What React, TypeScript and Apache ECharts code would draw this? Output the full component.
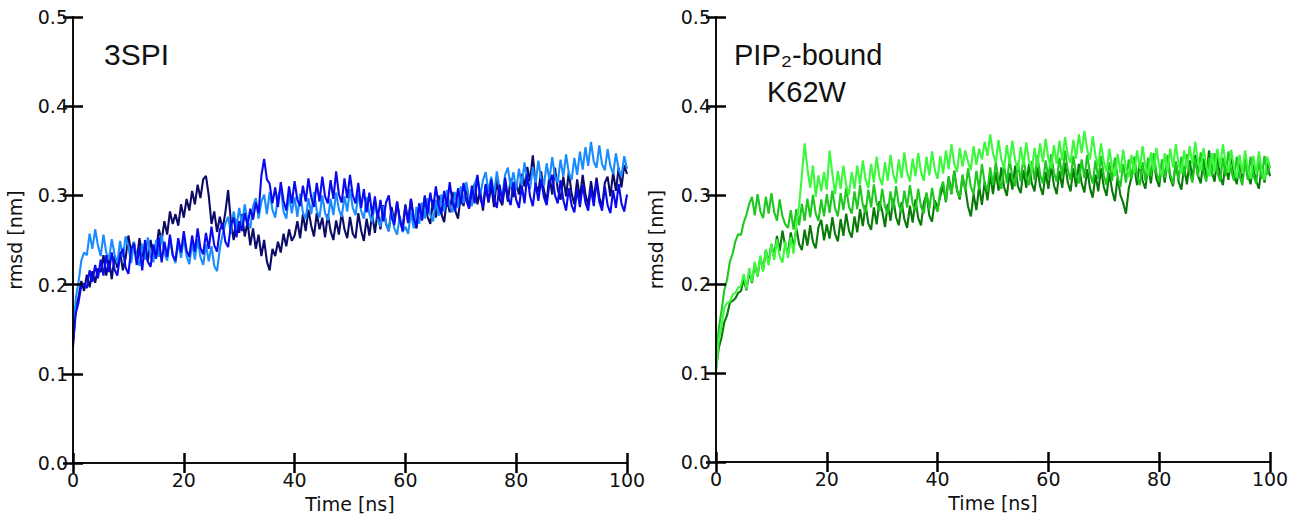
import React, { useEffect, useRef } from "react";
import * as echarts from "echarts";

// sample times: 0 .. 100 ns, step 0.5 ns
const STEP_NS = 0.5;
const X_TICKS = [0, 20, 40, 60, 80, 100];
const Y_TICKS = [0.0, 0.1, 0.2, 0.3, 0.4, 0.5];

// RMSD values in thousandths of nm (0.001 nm), one per 0.5 ns
const navy3SPI = [
  130, 175, 186, 204, 193, 211, 197, 215, 202, 218,
  214, 233, 210, 228, 206, 232, 219, 237, 216, 230,
  255, 236, 248, 227, 252, 231, 243, 226, 250, 233,
  238, 262, 249, 271, 256, 282, 268, 279, 266, 290,
  275, 296, 283, 305, 290, 312, 297, 318, 322, 300,
  268, 282, 259, 276, 262, 281, 306, 271, 250, 273,
  258, 279, 254, 270, 244, 263, 240, 256, 232, 250,
  226, 216, 240, 232, 248, 236, 257, 243, 262, 249,
  255, 271, 252, 279, 260, 284, 266, 254, 280, 262,
  275, 253, 279, 260, 250, 272, 256, 281, 262, 252,
  276, 257, 252, 280, 261, 249, 274, 255, 279, 258,
  283, 262, 289, 268, 260, 287, 270, 293, 271, 264,
  290, 270, 296, 274, 263, 291, 272, 298, 276, 268,
  295, 275, 300, 279, 270, 297, 281, 304, 283, 274,
  300, 288, 310, 286, 303, 313, 290, 306, 283, 311,
  292, 311, 287, 318, 296, 289, 314, 293, 319, 298,
  314, 301, 324, 310, 332, 316, 345, 312, 304, 327,
  306, 293, 323, 301, 331, 307, 295, 321, 299, 326,
  302, 290, 318, 297, 323, 301, 289, 316, 295, 320,
  298, 287, 314, 321, 299, 326, 305, 331, 309, 334,
  324,
];

const blue3SPI = [
  135, 168, 180, 199, 201, 196, 216, 203, 222, 207,
  228, 210, 233, 214, 236, 217, 210, 233, 240, 219,
  212, 240, 246, 222, 242, 216, 250, 226, 220, 245,
  229, 253, 225, 248, 231, 256, 233, 227, 252, 236,
  260, 238, 231, 255, 237, 263, 241, 234, 258, 240,
  265, 244, 237, 261, 269, 248, 242, 267, 275, 253,
  271, 260, 280, 266, 285, 273, 292, 280, 322, 341,
  318, 313, 291, 309, 287, 315, 294, 283, 310, 291,
  316, 295, 288, 311, 293, 319, 298, 287, 314, 293,
  321, 299, 291, 317, 296, 327, 301, 292, 319, 297,
  323, 300, 291, 314, 286, 307, 281, 303, 278, 299,
  274, 295, 271, 292, 300, 276, 267, 293, 273, 260,
  288, 269, 296, 274, 265, 291, 272, 300, 279, 303,
  284, 310, 289, 279, 305, 287, 315, 292, 283, 308,
  290, 314, 294, 285, 311, 291, 323, 297, 287, 313,
  293, 318, 296, 286, 312, 292, 320, 298, 289, 315,
  295, 286, 311, 291, 324, 299, 288, 314, 294, 318,
  298, 289, 313, 323, 300, 291, 317, 295, 283, 308,
  289, 281, 307, 287, 312, 292, 283, 308, 288, 316,
  293, 283, 310, 289, 280, 306, 286, 313, 291, 282,
  301,
];

const lightBlue3SPI = [
  140, 185, 203, 227, 236, 233, 257, 240, 262, 244,
  232, 256, 236, 228, 251, 234, 224, 249, 231, 254,
  243, 224, 248, 229, 221, 246, 228, 253, 232, 225,
  250, 231, 256, 235, 227, 252, 233, 224, 248, 230,
  253, 232, 223, 247, 228, 251, 231, 222, 245, 226,
  243, 221, 215, 240, 256, 268, 276, 257, 282, 263,
  286, 267, 290, 271, 263, 288, 297, 274, 293, 301,
  279, 304, 284, 275, 299, 308, 282, 274, 301, 280,
  298, 276, 302, 281, 273, 297, 279, 304, 283, 275,
  300, 280, 272, 296, 278, 303, 284, 276, 299, 282,
  307, 286, 278, 302, 283, 274, 298, 279, 270, 293,
  273, 265, 288, 269, 260, 282, 263, 256, 277, 259,
  265, 257, 281, 263, 287, 268, 292, 274, 297, 278,
  271, 295, 277, 301, 282, 306, 288, 281, 304, 286,
  310, 291, 315, 296, 288, 313, 322, 299, 317, 326,
  304, 321, 300, 327, 307, 298, 323, 331, 309, 326,
  306, 330, 311, 337, 315, 307, 332, 313, 339, 318,
  311, 336, 317, 343, 322, 314, 340, 321, 346, 325,
  317, 342, 323, 349, 329, 354, 333, 360, 338, 331,
  356, 335, 328, 352, 333, 324, 347, 329, 321, 344,
  330,
];

const darkGreenK62W = [
  105, 128, 140, 157, 165, 179, 181, 184, 190, 192,
  205, 193, 214, 201, 223, 209, 230, 216, 238, 224,
  245, 231, 254, 237, 260, 242, 235, 258, 241, 263,
  245, 238, 261, 243, 266, 247, 240, 264, 272, 249,
  267, 251, 275, 256, 248, 273, 254, 279, 260, 252,
  276, 258, 284, 265, 289, 268, 261, 286, 267, 293,
  282, 264, 290, 271, 296, 275, 266, 292, 273, 263,
  288, 269, 295, 274, 266, 291, 301, 277, 270, 294,
  285, 299, 310, 292, 321, 301, 327, 306, 295, 320,
  308, 287, 276, 301, 283, 310, 289, 315, 294, 323,
  301, 326, 305, 331, 309, 299, 325, 306, 333, 310,
  302, 328, 308, 335, 313, 304, 331, 310, 300, 326,
  307, 333, 311, 301, 327, 308, 336, 314, 304, 330,
  309, 335, 313, 303, 329, 308, 297, 323, 304, 330,
  309, 299, 325, 305, 293, 320, 300, 291, 279, 307,
  320, 332, 311, 338, 316, 307, 333, 313, 340, 318,
  309, 335, 314, 341, 319, 310, 337, 315, 306, 332,
  312, 339, 318, 345, 322, 313, 341, 320, 350, 326,
  315, 343, 322, 311, 338, 317, 345, 323, 312, 339,
  318, 344, 323, 312, 338, 316, 307, 333, 314, 336,
  321,
];

const midGreenK62W = [
  112, 150, 170, 193, 205, 225, 234, 248, 256, 255,
  269, 278, 290, 298, 277, 301, 282, 274, 298, 279,
  302, 281, 271, 295, 276, 267, 263, 283, 261, 284,
  266, 290, 271, 296, 275, 300, 279, 271, 295, 276,
  301, 280, 305, 285, 276, 302, 283, 308, 287, 279,
  304, 284, 311, 289, 280, 306, 286, 312, 291, 282,
  307, 287, 279, 304, 284, 310, 289, 281, 305, 286,
  311, 290, 282, 307, 287, 279, 303, 284, 308, 289,
  281, 306, 315, 293, 320, 301, 326, 305, 297, 323,
  304, 330, 309, 301, 327, 306, 335, 313, 304, 331,
  311, 337, 316, 307, 333, 313, 341, 319, 310, 336,
  315, 342, 321, 311, 338, 317, 345, 323, 313, 339,
  319, 346, 325, 315, 342, 321, 350, 328, 317, 344,
  323, 313, 340, 319, 345, 324, 313, 339, 318, 344,
  322, 311, 337, 316, 342, 320, 309, 335, 314, 340,
  318, 343, 322, 311, 337, 316, 342, 321, 347, 325,
  315, 340, 319, 345, 323, 312, 338, 317, 343, 321,
  346, 325, 314, 341, 320, 348, 326, 315, 342, 321,
  347, 326, 315, 342, 321, 349, 327, 316, 343, 322,
  311, 338, 317, 343, 322, 313, 339, 318, 344, 323,
  333,
];

const limeK62W = [
  100, 138, 153, 173, 179, 180, 188, 190, 196, 198,
  211, 194, 218, 202, 225, 208, 232, 214, 239, 221,
  245, 227, 250, 231, 224, 248, 229, 253, 234, 266,
  288, 322, 358, 330, 308, 333, 298, 322, 304, 326,
  306, 350, 324, 301, 327, 307, 333, 311, 300, 326,
  307, 333, 312, 339, 317, 308, 335, 314, 343, 320,
  311, 337, 316, 345, 323, 313, 340, 319, 348, 325,
  315, 341, 321, 347, 326, 316, 343, 322, 349, 328,
  318, 344, 324, 350, 329, 357, 335, 326, 353, 332,
  350, 337, 328, 355, 334, 352, 340, 360, 344, 368,
  347, 336, 362, 340, 330, 356, 335, 361, 339, 328,
  354, 333, 359, 338, 327, 353, 332, 358, 337, 363,
  341, 330, 356, 335, 361, 339, 365, 345, 336, 362,
  341, 368, 347, 372, 351, 340, 366, 344, 333, 358,
  337, 326, 352, 331, 321, 346, 325, 351, 330, 320,
  345, 324, 350, 329, 355, 333, 322, 348, 327, 353,
  332, 321, 347, 326, 352, 331, 357, 335, 324, 350,
  329, 355, 334, 360, 338, 327, 353, 332, 321, 347,
  326, 352, 331, 357, 336, 325, 351, 330, 319, 345,
  324, 350, 329, 318, 344, 323, 349, 328, 317, 343,
  331,
];

const LEFT_LABEL = "3SPI";
const RIGHT_LABEL_1 = "PIP\u2082-bound";
const RIGHT_LABEL_2 = "K62W";

const toPairs = (vals: number[]) => vals.map((v, i) => [i * STEP_NS, v / 1000]);

const AXIS_FONT = "DejaVu Sans";
const TICK_FS = 19;

function makeX(gridIndex: number, bottom: boolean) {
  return {
    type: "value",
    gridIndex,
    position: bottom ? "bottom" : "top",
    min: 0,
    max: 100,
    interval: 20,
    z: 5,
    name: bottom ? "Time [ns]" : "",
    nameLocation: "middle",
    nameGap: 31,
    nameTextStyle: { fontFamily: AXIS_FONT, fontSize: 19, color: "#111" },
    axisLine: { show: true, lineStyle: { color: "#000", width: 1.5 } },
    axisTick: { show: true, inside: true, length: 10, lineStyle: { color: "#000", width: 2.5 } },
    axisLabel: {
      show: bottom,
      fontFamily: AXIS_FONT,
      fontSize: TICK_FS,
      color: "#111",
      margin: 7,
      formatter: (v: number) => (X_TICKS.includes(v) ? String(v) : ""),
    },
    splitLine: { show: false },
  };
}

function makeY(gridIndex: number, left: boolean, gap: number) {
  return {
    type: "value",
    gridIndex,
    position: left ? "left" : "right",
    min: 0,
    max: 0.5,
    interval: 0.1,
    z: 5,
    name: left ? "rmsd [nm]" : "",
    nameLocation: "middle",
    nameGap: gap,
    nameTextStyle: { fontFamily: AXIS_FONT, fontSize: 19, color: "#111" },
    axisLine: { show: true, lineStyle: { color: "#000", width: 1.5 } },
    axisTick: { show: true, inside: true, length: 10, lineStyle: { color: "#000", width: 2.5 } },
    axisLabel: {
      show: left,
      fontFamily: AXIS_FONT,
      fontSize: TICK_FS,
      color: "#111",
      margin: 5,
      formatter: (v: number) => {
        const r = Math.round(v * 10) / 10;
        return Y_TICKS.includes(r) ? r.toFixed(1) : "";
      },
    },
    splitLine: { show: false },
  };
}

function lineSeries(name: string, vals: number[], color: string, xAxisIndex: number, yAxisIndex: number, z: number) {
  return {
    type: "line",
    name,
    data: toPairs(vals),
    xAxisIndex,
    yAxisIndex,
    showSymbol: false,
    symbol: "none",
    z,
    lineStyle: { color, width: 2.1 },
    emphasis: { disabled: true },
  };
}

export default function App() {
  const ref = useRef<HTMLDivElement>(null);
  useEffect(() => {
    if (!ref.current) return;
    const chart = echarts.init(ref.current, undefined, { renderer: "svg" });
    chart.setOption({
      animation: false,
      backgroundColor: "#fff",
      grid: [
        { left: 73, top: 17, width: 554, height: 446 },
        { left: 716, top: 17, width: 554, height: 445 },
      ],
      xAxis: [makeX(0, true), makeX(0, false), makeX(1, true), makeX(1, false)],
      yAxis: [makeY(0, true, 49), makeY(0, false, 0), makeY(1, true, 51), makeY(1, false, 0)],
      series: [
        lineSeries("3SPI run 1", navy3SPI, "#0c0c68", 0, 0, 2),
        lineSeries("3SPI run 3", lightBlue3SPI, "#1a8cff", 0, 0, 3),
        lineSeries("3SPI run 2", blue3SPI, "#0a0aee", 0, 0, 4),
        lineSeries("K62W run 1", darkGreenK62W, "#077a07", 2, 2, 2),
        lineSeries("K62W run 2", midGreenK62W, "#1ec81e", 2, 2, 3),
        lineSeries("K62W run 3", limeK62W, "#3cf83c", 2, 2, 4),
      ],
      graphic: [
        {
          type: "text",
          left: 104,
          top: 39,
          style: { text: LEFT_LABEL, fontFamily: "Liberation Sans", fontSize: 30, fill: "#111" },
        },
        {
          type: "text",
          left: 734,
          top: 40,
          style: { text: RIGHT_LABEL_1, fontFamily: "Liberation Sans", fontSize: 29, fill: "#111" },
        },
        {
          type: "text",
          left: 767,
          top: 77,
          style: { text: RIGHT_LABEL_2, fontFamily: "Liberation Sans", fontSize: 29, fill: "#111" },
        },
      ],
    });
    return () => chart.dispose();
  }, []);
  return (
    <div
      ref={ref}
      style={{ position: "absolute", left: 0, top: 0, width: 1299, height: 519, background: "#fff" }}
    />
  );
}
